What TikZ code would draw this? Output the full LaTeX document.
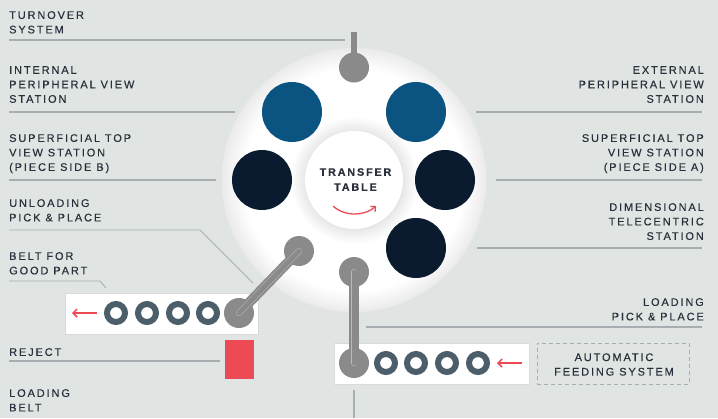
\documentclass[tikz,border=0pt]{standalone}
\usepackage{fontspec}
\setmainfont{Liberation Sans}
\newfontfamily\lblfont{Liberation Sans}[LetterSpace=17, FakeBold=0.3]
\usepackage{xcolor}
\usetikzlibrary{arrows.meta}

\definecolor{bgcol}{HTML}{E0E4E2}
\definecolor{lblcol}{HTML}{29303B}
\definecolor{leadcol}{HTML}{A7ADB1}
\definecolor{bluest}{HTML}{0B5380}
\definecolor{darkst}{HTML}{0A1B30}
\definecolor{armcol}{HTML}{8A8A8A}
\definecolor{ringcol}{HTML}{4B5E69}
\definecolor{redcol}{HTML}{EE4A55}

\pgfdeclareradialshading{discshade}{\pgfpoint{0bp}{0bp}}{color(0bp)=(white); color(21bp)=(white); color(25bp)=(black!8); color(50bp)=(black!8)}
\pgfdeclareradialshading{haloshade}{\pgfpoint{0bp}{0bp}}{color(0bp)=(black!12); color(19bp)=(black!12); color(19.3bp)=(black!9); color(25bp)=(white); color(50bp)=(white)}

\tikzset{
  lbl/.style={font=\lblfont\fontsize{11}{14.5}\selectfont, text=lblcol, inner sep=0pt, align=left, anchor=north west},
  lblr/.style={lbl, align=right, anchor=north east},
  lead/.style={draw=leadcol, line width=1.2pt},
  station/.style={circle, minimum size=60pt, inner sep=0pt},
  grip/.style={circle, fill=armcol, minimum size=30pt, inner sep=0pt},
  part/.style={circle, draw=ringcol, line width=6pt, minimum size=18pt, inner sep=0pt},
  beltbox/.style={fill=white, draw=black!15, line width=0.8pt, inner sep=0pt},
  redarrow/.style={draw=redcol, line width=1.5pt, -{Straight Barb[length=4pt, width=8pt]}},
}

\begin{document}
\begin{tikzpicture}[x=1pt, y=-1pt]
    \useasboundingbox (0,0) rectangle (718,418);
    \fill[bgcol] (0,0) rectangle (718,418);

    % Transfer table: disc, halo and centre
    \shade[shading=discshade, draw=black!8] (354,180) circle[radius=132pt];
    \shade[shading=haloshade] (354,180) circle[radius=64pt];
    \node[circle, fill=white, minimum size=98pt, inner sep=0pt] (table) at (354,180) {};
    \node[font=\lblfont\bfseries\fontsize{10.8}{15}\selectfont, text=lblcol, align=center, inner sep=0pt] (ttext) at (355.5,179.5) {TRANSFER\\TABLE};
    \draw[redcol, line width=1.3pt, -{Straight Barb[length=3.5pt, width=7pt]}] (333,206) .. controls (345,217) and (365,216) .. (376,206);

    % Stations round the table
    \node[station, fill=bluest] (intp st) at (292,112) {};
    \node[station, fill=bluest] (extp st) at (416,112) {};
    \node[station, fill=darkst] (supb st) at (262,180) {};
    \node[station, fill=darkst] (supa st) at (445,180) {};
    \node[station, fill=darkst] (dim st) at (416,248) {};

    % Turnover system
    \draw[armcol, line width=6pt] (354,32) -- (354,60);
    \node[grip] (turn grip) at (354,67.5) {};

    % Belts, reject and feeder
    \node[beltbox, minimum width=193pt, minimum height=41pt] (good belt) at (161.5,313.5) {};
    \node[beltbox, minimum width=195pt, minimum height=41pt] (load belt) at (431.5,363.5) {};
    \node[fill=redcol, minimum width=29pt, minimum height=39pt, inner sep=0pt] (reject box) at (239.5,359.5) {};
    \node[draw=leadcol, line width=1pt, dash pattern=on 4pt off 3pt, minimum width=152pt, minimum height=41pt, inner sep=0pt] (feeder) at (613,363.5) {};
    \node[lbl, anchor=center, align=center] (feeder text) at (614,364.5) {AUTOMATIC\\FEEDING SYSTEM};

    \foreach \x [count=\i] in {116,147,178,208} \node[part] (g\i) at (\x,313) {};
    \foreach \x [count=\i] in {386,416,447,478} \node[part] (l\i) at (\x,363) {};
    \draw[redarrow] (97,313) -- (72,313);
    \draw[redarrow] (522,363) -- (497,363);

    % Pick & place arms
    \node[grip] (unld top) at (299,251) {};
    \node[grip] (unld bot) at (239,313) {};
    \node[grip] (load top) at (354,272) {};
    \node[grip] (load bot) at (354,363) {};
    \foreach \a/\b in {unld top/unld bot, load top/load bot} {
        \draw[armcol, line width=10pt, line cap=round] (\a.center) -- (\b.center);
        \draw[armcol!60!white, line width=6pt, line cap=round] (\a.center) -- (\b.center);
        \draw[armcol, line width=5pt, line cap=round] (\a.center) -- (\b.center);
    }

    % Left labels
    \node[lbl] (turn) at (9,11) {TURNOVER\\SYSTEM};
    \node[lbl] (intp) at (9,66) {INTERNAL\\PERIPHERAL VIEW\\STATION};
    \node[lbl] (supb) at (9,134) {SUPERFICIAL TOP\\VIEW STATION\\(PIECE SIDE B)};
    \node[lbl] (unpp) at (9,199) {UNLOADING\\PICK \& PLACE};
    \node[lbl] (good) at (9,252) {BELT FOR\\GOOD PART};
    \node[lbl] (rej) at (9,348) {REJECT};
    \node[lbl] (ldbelt) at (9,389) {LOADING\\BELT};
    \draw[lead] (9,40) -- (345,40);
    \draw[lead] (9,112) -- (235,112);
    \draw[lead] (9,180) -- (216,180);
    \draw[lead, line width=0.9pt] (9,230) -- (200,230) -- (253,283);
    \draw[lead, line width=0.9pt] (9,281) -- (100,281) -- (106,288);
    \draw[lead] (9,361) -- (220,361);

    % Right labels
    \node[lblr] (extp) at (704,66) {EXTERNAL\\PERIPHERAL VIEW\\STATION};
    \node[lblr] (supa) at (704,134) {SUPERFICIAL TOP\\VIEW STATION\\(PIECE SIDE A)};
    \node[lblr] (dim) at (704,203) {DIMENSIONAL\\TELECENTRIC\\STATION};
    \node[lblr] (ldpp) at (704,298) {LOADING\\PICK \& PLACE};
    \draw[lead] (476,112) -- (702,112);
    \draw[lead] (496,180) -- (702,180);
    \draw[lead] (477,248) -- (702,248);
    \draw[lead] (366,327) -- (702,327);
    \draw[lead] (354,390) -- (354,418);
\end{tikzpicture}
\end{document}
